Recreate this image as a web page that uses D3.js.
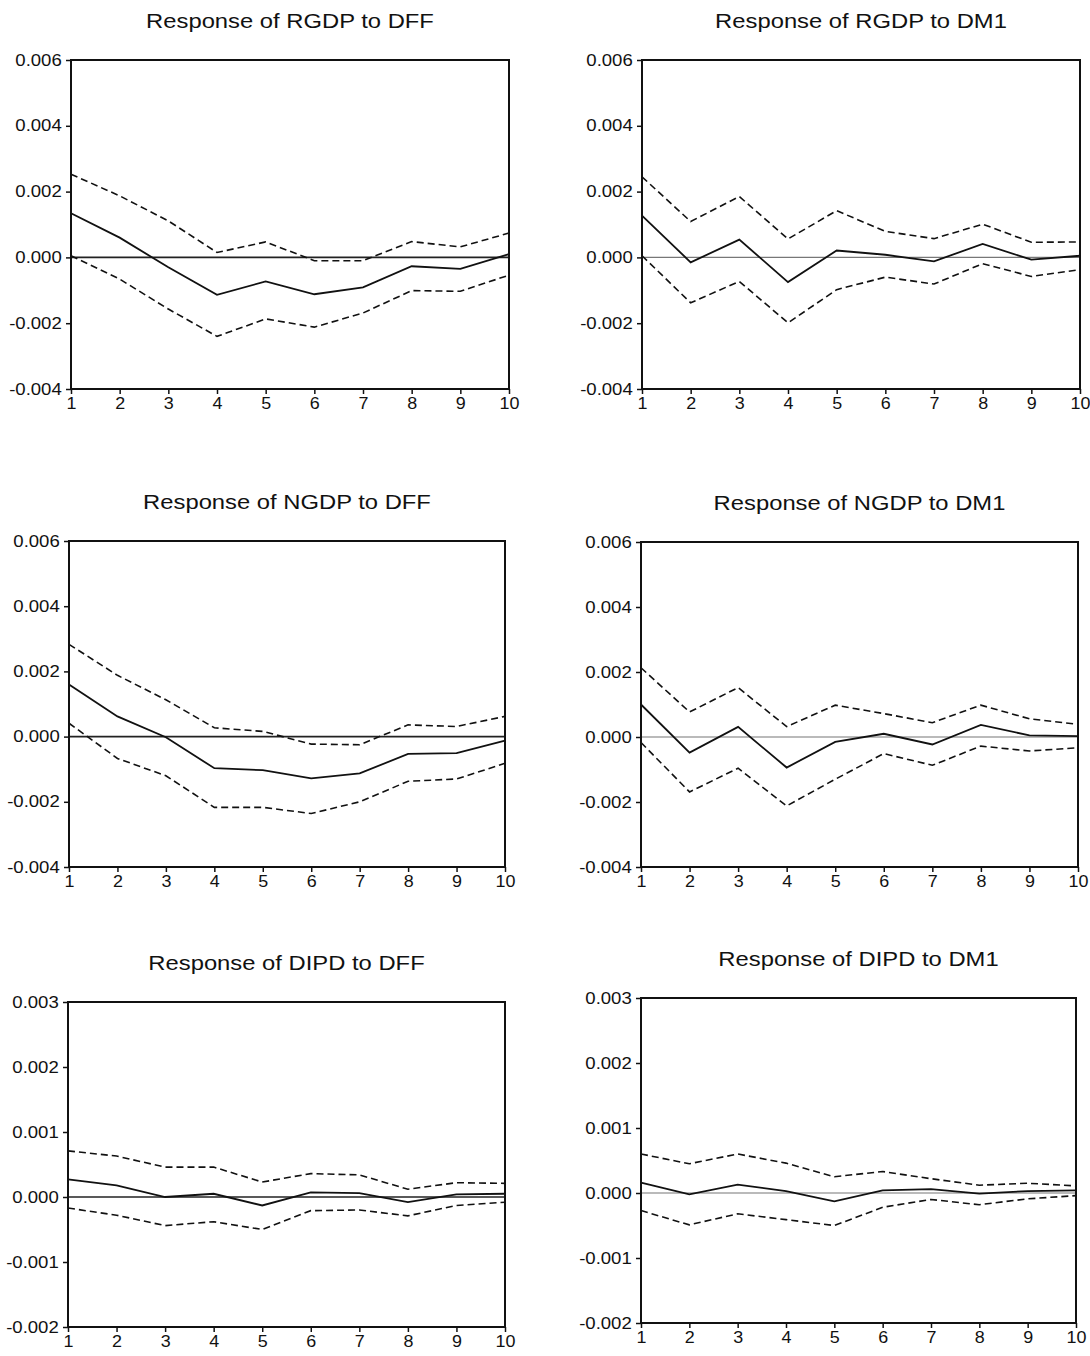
<!DOCTYPE html>
<html>
<head>
<meta charset="utf-8">
<script src="https://cdn.jsdelivr.net/npm/d3@7"></script>
<style>
  body { margin: 0; background: #fff; }
  svg { display: block; }
  text { font-family: "Liberation Sans", Arial, Helvetica, sans-serif; fill: #111; }
</style>
</head>
<body>
<div id="chart"></div>
<script>
// horizons on the x axis
const horizons = [1, 2, 3, 4, 5, 6, 7, 8, 9, 10];

// tick values
const ticksGdp = [-0.004, -0.002, 0.000, 0.002, 0.004, 0.006];
const ticksIpd = [-0.002, -0.001, 0.000, 0.001, 0.002, 0.003];

// Response of RGDP to DFF
const rgdpDffMid = [0.00134, 0.00060, -0.00030, -0.00114, -0.00073, -0.00112, -0.00091, -0.00027, -0.00035, 0.00010];
const rgdpDffUp  = [0.00253, 0.00187, 0.00111, 0.00015, 0.00047, -0.00010, -0.00010, 0.00048, 0.00032, 0.00074];
const rgdpDffLow = [0.00005, -0.00066, -0.00157, -0.00240, -0.00187, -0.00212, -0.00169, -0.00101, -0.00103, -0.00054];

// Response of RGDP to DM1
const rgdpDm1Mid = [0.00127, -0.00015, 0.00054, -0.00075, 0.00021, 0.00008, -0.00012, 0.00041, -0.00007, 0.00005];
const rgdpDm1Up  = [0.00245, 0.00109, 0.00185, 0.00056, 0.00142, 0.00079, 0.00057, 0.00101, 0.00046, 0.00047];
const rgdpDm1Low = [0.00005, -0.00138, -0.00073, -0.00199, -0.00098, -0.00060, -0.00081, -0.00019, -0.00058, -0.00037];

// Response of NGDP to DFF
const ngdpDffMid = [0.00160, 0.00062, -0.00002, -0.00097, -0.00103, -0.00128, -0.00113, -0.00053, -0.00051, -0.00012];
const ngdpDffUp  = [0.00283, 0.00188, 0.00113, 0.00027, 0.00016, -0.00023, -0.00025, 0.00036, 0.00031, 0.00062];
const ngdpDffLow = [0.00041, -0.00067, -0.00120, -0.00217, -0.00217, -0.00236, -0.00200, -0.00137, -0.00130, -0.00082];

// Response of NGDP to DM1
const ngdpDm1Mid = [0.00100, -0.00048, 0.00031, -0.00094, -0.00015, 0.00010, -0.00023, 0.00037, 0.00005, 0.00003];
const ngdpDm1Up  = [0.00213, 0.00077, 0.00152, 0.00032, 0.00098, 0.00072, 0.00044, 0.00098, 0.00056, 0.00039];
const ngdpDm1Low = [-0.00017, -0.00169, -0.00096, -0.00212, -0.00130, -0.00051, -0.00087, -0.00028, -0.00043, -0.00033];

// Response of DIPD to DFF
const dipdDffMid = [0.00027, 0.00018, 0.00000, 0.00005, -0.00013, 0.00007, 0.00006, -0.00008, 0.00004, 0.00005];
const dipdDffUp  = [0.00071, 0.00063, 0.00046, 0.00046, 0.00023, 0.00036, 0.00034, 0.00012, 0.00022, 0.00021];
const dipdDffLow = [-0.00017, -0.00028, -0.00044, -0.00038, -0.00050, -0.00021, -0.00020, -0.00029, -0.00013, -0.00008];

// Response of DIPD to DM1
const dipdDm1Mid = [0.00016, -0.00002, 0.00013, 0.00003, -0.00013, 0.00004, 0.00006, -0.00001, 0.00003, 0.00004];
const dipdDm1Up  = [0.00060, 0.00045, 0.00060, 0.00046, 0.00025, 0.00033, 0.00022, 0.00012, 0.00015, 0.00011];
const dipdDm1Low = [-0.00027, -0.00049, -0.00032, -0.00041, -0.00050, -0.00022, -0.00010, -0.00018, -0.00009, -0.00004];

// panel boxes (page pixels) and per-panel settings
const panels = [
  { title: "Response of RGDP to DFF", mid: rgdpDffMid, up: rgdpDffUp, low: rgdpDffLow, ticks: ticksGdp, box: [71, 509, 60, 389], left: true },
  { title: "Response of RGDP to DM1", mid: rgdpDm1Mid, up: rgdpDm1Up, low: rgdpDm1Low, ticks: ticksGdp, box: [642, 1080, 60, 389], left: false },
  { title: "Response of NGDP to DFF", mid: ngdpDffMid, up: ngdpDffUp, low: ngdpDffLow, ticks: ticksGdp, box: [69, 505, 541, 867], left: true },
  { title: "Response of NGDP to DM1", mid: ngdpDm1Mid, up: ngdpDm1Up, low: ngdpDm1Low, ticks: ticksGdp, box: [641, 1078, 542, 867], left: false },
  { title: "Response of DIPD to DFF", mid: dipdDffMid, up: dipdDffUp, low: dipdDffLow, ticks: ticksIpd, box: [68, 505, 1002, 1327], left: true },
  { title: "Response of DIPD to DM1", mid: dipdDm1Mid, up: dipdDm1Up, low: dipdDm1Low, ticks: ticksIpd, box: [641, 1076, 998, 1323], left: false }
];

const width = 1090, height = 1356;
const ink = "#111";

const svg = d3.select("#chart").append("svg")
    .attr("width", width)
    .attr("height", height);

panels.forEach(p => {
  const [l, r, t, b] = p.box;
  const x = d3.scaleLinear().domain([1, 10]).range([l, r]);
  const y = d3.scaleLinear().domain(d3.extent(p.ticks)).range([b, t]);

  const g = svg.append("g");

  // title (scan is stretched horizontally a bit)
  g.append("text")
      .attr("transform", `translate(${(l + r) / 2},${t - 32}) scale(1.22,1)`)
      .attr("text-anchor", "middle")
      .style("font-size", "19.5px")
      .text(p.title);

  // zero line
  g.append("line")
      .attr("x1", l).attr("x2", r)
      .attr("y1", y(0)).attr("y2", y(0))
      .attr("stroke", p.left ? "#222" : "#777")
      .attr("stroke-width", p.left ? 1.7 : 1.1);

  const line = d3.line()
      .x((d, i) => x(horizons[i]))
      .y(d => y(d));

  // confidence bands
  [p.up, p.low].forEach(band => {
    g.append("path")
        .datum(band)
        .attr("d", line)
        .attr("fill", "none")
        .attr("stroke", ink)
        .attr("stroke-width", 1.6)
        .attr("stroke-dasharray", "7,4");
  });

  // impulse response
  g.append("path")
      .datum(p.mid)
      .attr("d", line)
      .attr("fill", "none")
      .attr("stroke", ink)
      .attr("stroke-width", 1.8);

  // frame
  g.append("rect")
      .attr("x", l).attr("y", t)
      .attr("width", r - l).attr("height", b - t)
      .attr("fill", "none")
      .attr("stroke", ink)
      .attr("stroke-width", 2);

  // axes
  const yAxis = g.append("g")
      .attr("transform", `translate(${l},0)`)
      .call(d3.axisLeft(y).tickValues(p.ticks).tickSize(5).tickPadding(3)
        .tickFormat(d => d.toFixed(3)));

  const xAxis = g.append("g")
      .attr("transform", `translate(0,${b})`)
      .call(d3.axisBottom(x).tickValues(horizons).tickSize(5).tickPadding(4)
        .tickFormat(d3.format("d")));

  [yAxis, xAxis].forEach(a => {
    a.select(".domain").remove();
    a.selectAll(".tick line").attr("stroke", ink).attr("stroke-width", 1.5);
    a.selectAll(".tick text")
        .attr("fill", ink)
        .style("font-size", "16px")
        .style("font-family", "'Liberation Sans', Arial, sans-serif");
  });
  yAxis.selectAll(".tick text").attr("transform", "scale(1.16,1)");
  xAxis.selectAll(".tick text").attr("transform", "scale(1.12,1)");
});
</script>
</body>
</html>
